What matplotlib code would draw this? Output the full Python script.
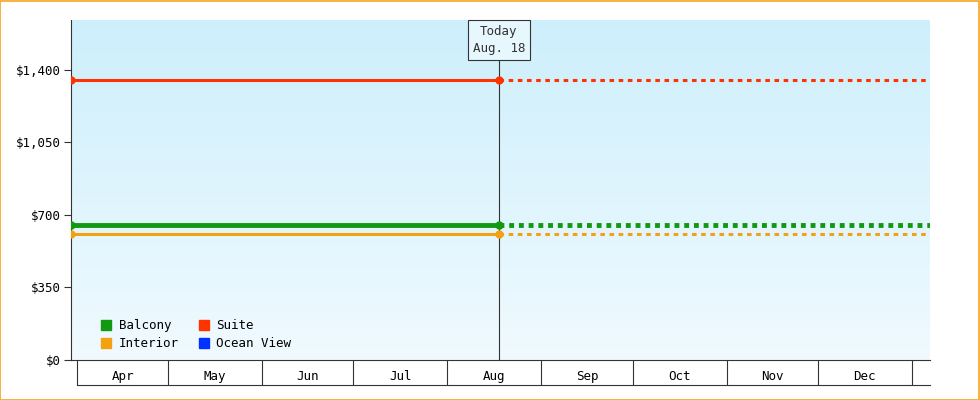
import matplotlib
matplotlib.use("Agg")
import matplotlib.pyplot as plt
import numpy as np
from matplotlib.lines import Line2D
from matplotlib.patches import Rectangle
from matplotlib.colors import LinearSegmentedColormap

# day-of-year values
x_start = 89   # Mar 30
x_today = 230  # Aug 18
x_end = 372    # Jan 7 (next year)
series = ["Balcony", "Suite", "Interior", "Ocean View"]
values = {"Balcony": 650, "Suite": 1350, "Interior": 610, "Ocean View": None}
colors = {"Balcony": "#119911", "Suite": "#ff3300", "Interior": "#f5a011", "Ocean View": "#0033ff"}
widths = {"Balcony": 3.5, "Suite": 2.2, "Interior": 2.2, "Ocean View": 2}
months = ["Apr", "May", "Jun", "Jul", "Aug", "Sep", "Oct", "Nov", "Dec"]
month_starts = [91, 121, 152, 182, 213, 244, 274, 305, 335, 366]
yticks = [0, 350, 700, 1050, 1400]
ylabels = ["$0", "$350", "$700", "$1,050", "$1,400"]

plt.rcParams["font.family"] = "DejaVu Sans Mono"
fig = plt.figure(figsize=(9.8, 4.0), dpi=100)
fig.patches.append(Rectangle((0.0005, 0.001), 0.998, 0.997, transform=fig.transFigure,
                             fill=False, edgecolor="#f5a623", lw=1.2))
ax = fig.add_axes([71/980, 40/400, 859/980, 340/400])
ax.set_xlim(x_start, x_end)
ax.set_ylim(0, 1641)
grad = np.linspace(0, 1, 256).reshape(-1, 1)
cmap = LinearSegmentedColormap.from_list("g", ["#f0faff", "#cdeffc"])
ax.imshow(grad, aspect="auto", cmap=cmap, origin="lower",
          extent=[x_start, x_end, 0, 1641], zorder=0)

for s in series:
    v = values[s]
    if v is None:
        continue
    ax.plot([x_start, x_today], [v, v], color=colors[s], lw=widths[s], zorder=3,
            marker="o", ms=5)
    ax.plot([x_today, x_end], [v, v], color=colors[s], lw=widths[s],
            ls=(0, (1.0, 1.0)) if s == "Balcony" else (0, (1.5, 1.5)), zorder=3)

ax.axvline(x_today, color="#333333", lw=0.8, zorder=2)
ax.text(x_today, 1545, "Today\nAug. 18", ha="center", va="center", fontsize=9,
        color="#333333", linespacing=1.4,
        bbox=dict(boxstyle="square,pad=0.4", fc="#e6f7fd", ec="#333333", lw=0.8), zorder=5)

for sp in ["top", "right"]:
    ax.spines[sp].set_visible(False)
ax.spines["left"].set_color("#333333")
ax.spines["bottom"].set_color("#333333")
ax.set_yticks(yticks)
ax.set_yticklabels(ylabels, fontsize=9)
ax.tick_params(axis="y", length=5, color="#333333", pad=2)
ax.set_xticks(month_starts)
ax.set_xticklabels([])
ax.tick_params(axis="x", which="major", length=18, color="#333333")
mids = [(month_starts[i] + month_starts[i+1]) / 2 for i in range(len(months))]
ax.set_xticks(mids, minor=True)
ax.set_xticklabels(months, minor=True, fontsize=9)
ax.tick_params(axis="x", which="minor", length=0, pad=7)
ax.plot([x_start + 2, x_end], [-0.0735*1641, -0.0735*1641], color="#333333", lw=0.8,
        clip_on=False)

order = ["Balcony", "Interior", "Suite", "Ocean View"]
handles = [Line2D([], [], ls="", marker="s", ms=7, color=colors[s]) for s in order]
ax.legend(handles, order, loc="lower left", ncol=2, frameon=False, fontsize=9,
          handletextpad=0.0, columnspacing=1.0, borderaxespad=0.4, labelspacing=0.4,
          bbox_to_anchor=(0.015, 0.0))
fig.savefig("out.png", dpi=100)
